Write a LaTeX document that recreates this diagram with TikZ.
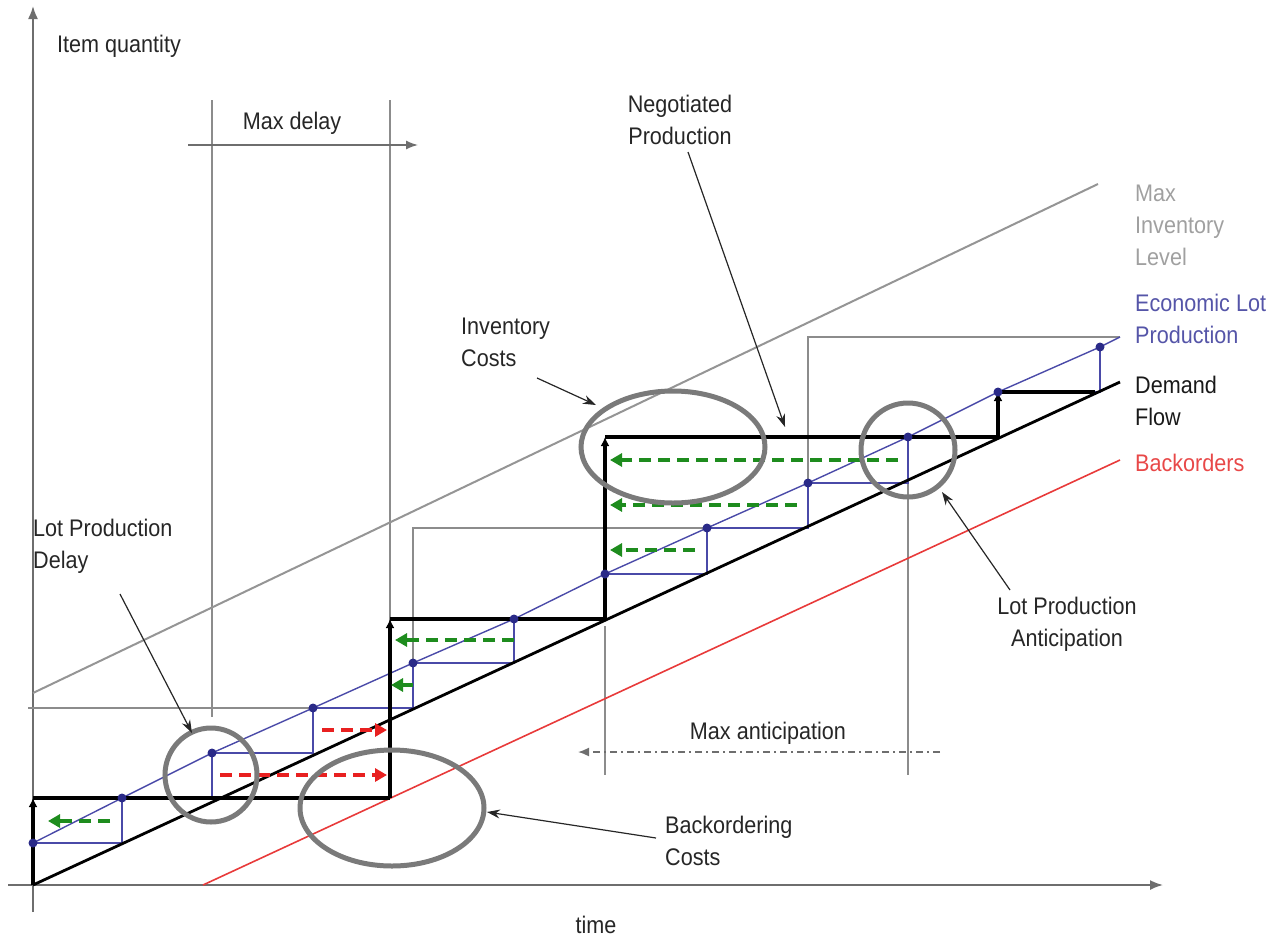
\documentclass[tikz,border=0pt]{standalone}
\usepackage{fontspec}
\setmainfont{Liberation Sans}[FakeStretch=0.9]
\usetikzlibrary{arrows.meta}
\definecolor{axisgray}{HTML}{6E6E6E}
\definecolor{guidegray}{HTML}{8C8C8C}
\definecolor{invgray}{HTML}{959595}
\definecolor{ringgray}{HTML}{7A7A7A}
\definecolor{lotblue}{HTML}{4A4AA8}
\definecolor{dotblue}{HTML}{2A2A88}
\definecolor{backred}{HTML}{E83A3A}
\definecolor{arrgreen}{HTML}{1E8C1E}
\definecolor{arrred}{HTML}{E82020}
\definecolor{txtgray}{HTML}{A0A0A0}
\definecolor{txtblue}{HTML}{5555A8}
\definecolor{txtred}{HTML}{E84848}
\begin{document}
\begin{tikzpicture}[x=1pt,y=-1pt,
  axisline/.style={draw=axisgray, line width=1.7pt, -{Latex[length=13pt,width=10pt]}},
  guide/.style={draw=guidegray, line width=1.4pt},
  maxinv/.style={draw=invgray, line width=2pt},
  demand/.style={draw=black, line width=2.8pt},
  backline/.style={draw=backred, line width=1.6pt},
  lotline/.style={draw=lotblue, line width=1.4pt},
  stepline/.style={draw=black, line width=4pt},
  steptip/.style={stepline, -{Latex[length=9pt,width=9pt]}},
  lotdot/.style={circle, fill=dotblue, inner sep=0pt, minimum size=9pt},
  greenarr/.style={draw=arrgreen, line width=3.6pt, dash pattern=on 12pt off 7pt, -{Triangle[length=12pt,width=13pt]}},
  redarr/.style={draw=arrred, line width=3.6pt, dash pattern=on 12pt off 7pt, -{Triangle[length=12pt,width=13pt]}},
  ring/.style={draw=ringgray, line width=5pt},
  pointer/.style={draw=black!85, line width=1.2pt, -{Stealth[length=13pt,width=9pt]}},
  lbl/.style={font=\fontsize{24}{32}\selectfont, align=left, inner sep=0pt, text=black!85},
  spanarrow/.style={draw=axisgray, line width=1.5pt, -{Latex[length=12pt,width=9pt]}},
  anticarrow/.style={draw=axisgray, line width=1.6pt, dash pattern=on 7pt off 4pt on 2pt off 4pt, -{Latex[length=11pt,width=9pt]}}
]
\useasboundingbox (0,0) rectangle (1280,938);

% ---------- axes ----------
\coordinate (yb) at (33,912); \coordinate (yt) at (33,6);
\coordinate (xl) at (8,885);  \coordinate (xr) at (1163,885);
\draw[axisline] (yb) -- (yt);
\draw[axisline] (xl) -- (xr);

% ---------- max delay guides ----------
\coordinate (md1t) at (212,100); \coordinate (md1b) at (212,717);
\coordinate (md2t) at (390,100); \coordinate (md2b) at (390,798);
\draw[guide] (md1t) -- (md1b);
\draw[guide] (md2t) -- (md2b);
\coordinate (mda) at (188,145); \coordinate (mdb) at (418,145);
\draw[spanarrow] (mda) -- (mdb);

% ---------- max anticipation guides ----------
\coordinate (ma1t) at (605,626); \coordinate (ma1b) at (605,775);
\coordinate (ma2t) at (908,437); \coordinate (ma2b) at (908,775);
\draw[guide] (ma1t) -- (ma1b);
\draw[guide] (ma2t) -- (ma2b);
\coordinate (maa) at (940,752); \coordinate (mab) at (578,752);
\draw[anticarrow] (maa) -- (mab);

% ---------- max inventory level ----------
\coordinate (mi0) at (33,693); \coordinate (mi1) at (1098,184);
\draw[maxinv] (mi0) -- (mi1);
\coordinate (g0) at (28,708); \coordinate (g1) at (413,708);
\coordinate (g2) at (413,528); \coordinate (g3) at (808,528);
\coordinate (g4) at (808,337); \coordinate (g5) at (1120,337);
\draw[guide] (g0) -- (g1) -- (g2) -- (g3) -- (g4) -- (g5);

% ---------- backorders ----------
\coordinate (bo0) at (203,885); \coordinate (bo1) at (1120,460);
\draw[backline] (bo0) -- (bo1);

% ---------- economic lot production ----------
\coordinate (d0) at (33,843);
\coordinate (d1) at (122,798);
\coordinate (d2) at (212,753);
\coordinate (d3) at (313,708);
\coordinate (d4) at (413,663);
\coordinate (d5) at (514,619);
\coordinate (d6) at (605,574);
\coordinate (d7) at (707,528);
\coordinate (d8) at (808,483);
\coordinate (d9) at (908,437);
\coordinate (d10) at (998,392);
\coordinate (d11) at (1100,347);
\coordinate (dend) at (1120,337);
\draw[lotline] (d0) -- (d1) -- (d2) -- (d3) -- (d4) -- (d5) -- (d6) -- (d7) -- (d8) -- (d9) -- (d10) -- (d11) -- (dend);
\draw[lotline] (d0) -| (d1) -| (d2) -| (d3) -| (d4) -| (d5) -| (d6) -| (d7) -| (d8) -| (d9) -| (d10) -| (d11);

% ---------- demand flow ----------
\coordinate (df0) at (33,885); \coordinate (df1) at (1120,382);
\draw[demand] (df0) -- (df1);

% ---------- negotiated production (black steps) ----------
\coordinate (s0) at (33,885);
\coordinate (s1) at (33,798);
\coordinate (s2) at (390,798);
\coordinate (s3) at (390,619);
\coordinate (s4) at (605,619);
\coordinate (s5) at (605,437);
\coordinate (s6) at (998,437);
\coordinate (s7) at (998,392);
\coordinate (s8) at (1095,392);
\draw[steptip] (s0) -- (s1);
\draw[stepline] (s1) -- (s2);
\draw[steptip] (s2) -- (s3);
\draw[stepline] (s3) -- (s4);
\draw[steptip] (s4) -- (s5);
\draw[stepline] (s5) -- (s6);
\draw[steptip] (s6) -- (s7);
\draw[stepline] (s7) -- (s8);

% ---------- lot dots ----------
\foreach \i in {0,...,11} { \node[lotdot] (dot\i) at (d\i) {}; }

% ---------- anticipation / delay arrows ----------
\coordinate (ga1) at (110,821); \coordinate (gb1) at (48,821);
\coordinate (ga2) at (413,685); \coordinate (gb2) at (391,685);
\coordinate (ga3) at (514,640); \coordinate (gb3) at (395,640);
\coordinate (ga4) at (898,460); \coordinate (gb4) at (610,460);
\coordinate (ga5) at (797,505); \coordinate (gb5) at (610,505);
\coordinate (ga6) at (695,550); \coordinate (gb6) at (610,550);
\draw[greenarr] (ga1) -- (gb1);
\draw[greenarr] (ga2) -- (gb2);
\draw[greenarr] (ga3) -- (gb3);
\draw[greenarr] (ga4) -- (gb4);
\draw[greenarr] (ga5) -- (gb5);
\draw[greenarr] (ga6) -- (gb6);
\coordinate (ra1) at (220,775); \coordinate (rb1) at (387,775);
\coordinate (ra2) at (322,730); \coordinate (rb2) at (387,730);
\draw[redarr] (ra1) -- (rb1);
\draw[redarr] (ra2) -- (rb2);

% ---------- rings ----------
\draw[ring] (211,775) ellipse [x radius=46, y radius=47];
\draw[ring] (392,808) ellipse [x radius=92, y radius=58];
\draw[ring] (673,447) ellipse [x radius=92, y radius=56];
\draw[ring] (908,450) ellipse [x radius=47, y radius=47];

% ---------- labels ----------
\node[lbl, anchor=west] (lq) at (57,46) {Item quantity};
\node[lbl] (lmd) at (292,123) {Max delay};
\node[lbl, align=center] (lnp) at (680,120) {Negotiated\\Production};
\node[lbl, anchor=west] (lic) at (461,342) {Inventory\\Costs};
\node[lbl, anchor=west, text=txtgray] (lmi) at (1135,225) {Max\\Inventory\\Level};
\node[lbl, anchor=west, text=txtblue] (lel) at (1135,319) {Economic Lot\\Production};
\node[lbl, anchor=west, text=black!90] (ldf) at (1135,401) {Demand\\Flow};
\node[lbl, anchor=west, text=txtred] (lbo) at (1135,463) {Backorders};
\node[lbl, anchor=west] (lpd) at (33,546) {Lot Production\\Delay};
\node[lbl, align=center] (lpa) at (1067,624) {Lot Production\\Anticipation};
\node[lbl, anchor=west] (lbc) at (665,841) {Backordering\\Costs};
\node[lbl] (lma) at (768,733) {Max anticipation};
\node[lbl] (ltime) at (596,925) {time};

% ---------- pointers ----------
\coordinate (pnp) at (785,427);
\coordinate (pic) at (596,405);
\coordinate (ppd) at (192,733);
\coordinate (ppa) at (942,492);
\coordinate (pbc) at (487,812);
\draw[pointer] (688,152) -- (pnp);
\draw[pointer] (537,378) -- (pic);
\draw[pointer] (120,594) -- (ppd);
\draw[pointer] (1010,590) -- (ppa);
\draw[pointer] (656,838) -- (pbc);
\end{tikzpicture}
\end{document}
